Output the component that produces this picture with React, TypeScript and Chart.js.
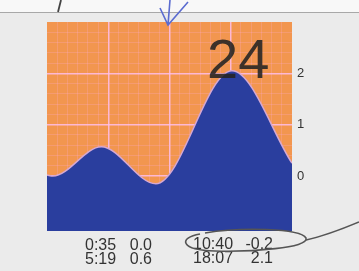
import React, { useEffect, useRef } from "react";
import { Chart, registerables } from "chart.js";

Chart.register(...registerables);

// Tide curve (hours of day, height)
const hours = [0, 0.58, 5.32, 10.67, 18.12, 24];
const levels = [0.02, 0.0, 0.57, -0.15, 2.05, 0.25];

// Tide table printed under the chart
const tideTimes = ["0:35", "5:19", "10:40", "18:07"];
const tideHeights = ["0.0", "0.6", "-0.2", "2.1"];

// Axis labels
const yTickLabels = [0, 1, 2];
const dayLabel = "24";

const ORANGE = "#F2964F";
const BLUE = "#2A3E9E";
const MAJOR = "rgba(255,190,235,0.85)";
const MINOR = "rgba(255,175,230,0.22)";

const isInt = (v: number) => Math.abs(v - Math.round(v)) < 1e-6;

export default function App() {
  const ref = useRef<HTMLCanvasElement | null>(null);

  useEffect(() => {
    if (!ref.current) return;
    const bgPlugin = {
      id: "plotBg",
      beforeDraw(chart: any) {
        const { ctx, chartArea } = chart;
        ctx.save();
        ctx.fillStyle = ORANGE;
        ctx.fillRect(chartArea.left, chartArea.top, chartArea.right - chartArea.left, chartArea.bottom - chartArea.top);
        ctx.restore();
      },
    };
    const chart = new Chart(ref.current, {
      type: "line",
      data: {
        datasets: [
          {
            data: hours.map((h, i) => ({ x: h, y: levels[i] })),
            borderColor: "#d6a8d2",
            borderWidth: 1.5,
            backgroundColor: BLUE,
            fill: "start",
            pointRadius: 0,
            cubicInterpolationMode: "monotone",
          },
        ],
      },
      options: {
        responsive: false,
        animation: false,
        devicePixelRatio: 1,
        layout: { padding: { left: 47, right: 47, top: 22, bottom: 40 } },
        plugins: { legend: { display: false }, tooltip: { enabled: false } },
        scales: {
          x: {
            type: "linear",
            min: 0,
            max: 24,
            z: 1,
            border: { display: false },
            afterFit: (s: any) => {
              s.height = 0;
            },
            ticks: { display: false, stepSize: 1, autoSkip: false, maxTicksLimit: 100 },
            grid: {
              drawTicks: false,
              color: (c: any) => {
                const v = c.tick.value;
                if (v <= 0 || v >= 24) return "rgba(0,0,0,0)";
                return v % 6 === 0 ? MAJOR : MINOR;
              },
              lineWidth: (c: any) => (c.tick.value % 6 === 0 ? 1.5 : 1),
            },
          },
          y: {
            type: "linear",
            position: "right",
            min: -1.07,
            max: 3,
            z: 1,
            border: { display: false },
            afterFit: (s: any) => {
              s.width = 20;
            },
            ticks: {
              stepSize: 0.2,
              autoSkip: false,
              maxTicksLimit: 100,
              padding: 5,
              color: "#333",
              font: { family: '"Liberation Sans", Arial, sans-serif', size: 13 },
              callback: (v: any) => {
                const n = Number(v);
                if (isInt(n) && yTickLabels.includes(Math.round(n))) return String(Math.round(n));
                return "";
              },
            },
            grid: {
              drawTicks: false,
              color: (c: any) => {
                const v = c.tick.value;
                if (v <= -1.069 || v >= 2.999) return "rgba(0,0,0,0)";
                return isInt(v) ? MAJOR : MINOR;
              },
              lineWidth: (c: any) => (isInt(c.tick.value) ? 1.5 : 1),
            },
          },
        },
      },
      plugins: [bgPlugin],
    } as any);
    return () => chart.destroy();
  }, []);

  const font = '"Liberation Sans", Arial, sans-serif';
  const cell = (text: string, left: number, top: number, align: "left" | "right" = "left") => (
    <div
      style={{
        position: "absolute",
        top,
        ...(align === "left" ? { left } : { right: 359 - left }),
        fontSize: 16,
        lineHeight: "16px",
        color: "#333",
        whiteSpace: "nowrap",
      }}
    >
      {text}
    </div>
  );

  return (
    <div
      style={{
        position: "absolute",
        left: 0,
        top: 0,
        width: 359,
        height: 271,
        overflow: "hidden",
        background: "#ebebeb",
        fontFamily: font,
      }}
    >
      <div
        style={{
          position: "absolute",
          left: 0,
          top: 0,
          width: 359,
          height: 12,
          background: "#f8f8f8",
          borderBottom: "1.5px solid #a8a8a8",
        }}
      />
      <canvas ref={ref} width={359} height={271} style={{ position: "absolute", left: 0, top: 0 }} />
      <div
        style={{
          position: "absolute",
          left: 207,
          top: 31,
          fontSize: 56,
          lineHeight: "56px",
          color: "rgba(35,35,35,0.88)",
        }}
      >
        {dayLabel}
      </div>
      {cell(tideTimes[0], 85, 237)}
      {cell(tideHeights[0], 152, 237, "right")}
      {cell(tideTimes[2], 193, 236)}
      {cell(tideHeights[2], 273, 236, "right")}
      {cell(tideTimes[1], 85, 251)}
      {cell(tideHeights[1], 152, 251, "right")}
      {cell(tideTimes[3], 193, 250)}
      {cell(tideHeights[3], 273, 250, "right")}
      <svg width={359} height={271} style={{ position: "absolute", left: 0, top: 0 }}>
        <path
          d="M205 233 C 240 227, 300 228, 306 238 C 310 248, 250 252, 215 251 C 180 250, 178 238, 200 234"
          fill="none"
          stroke="#555"
          strokeWidth={1.6}
        />
        <path d="M306 240 C 320 237, 340 230, 359 222" fill="none" stroke="#555" strokeWidth={1.6} />
        <path d="M170 0 L168 25 M160 8 L168 25 L188 2" fill="none" stroke="#5a6bd0" strokeWidth={1.6} />
        <path d="M61 0 L58 12" fill="none" stroke="#444" strokeWidth={1.8} />
      </svg>
    </div>
  );
}
